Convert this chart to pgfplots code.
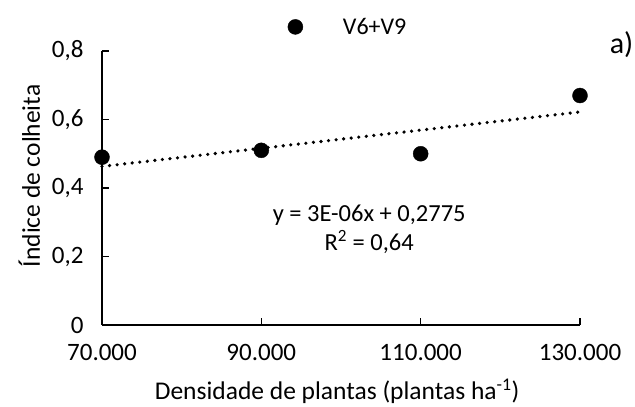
\documentclass[border=0pt]{standalone}
\usepackage{pgfplots}
\pgfplotsset{compat=1.18}
\usepackage{fontspec}
\setmainfont{Carlito}

\begin{document}
\begin{tikzpicture}[x=1pt,y=1pt]
\useasboundingbox (-102,-82) rectangle (533,325);
\begin{axis}[
  at={(0,0)}, anchor=origin,
  scale only axis, width=478pt, height=274pt,
  xmin=70000, xmax=130000, ymin=0, ymax=0.8,
  axis lines=left,
  axis line style={line width=1.6pt, -},
  every tick/.style={black, line width=1.6pt},
  tick align=inside, major tick length=7pt,
  xtick={70000,90000,110000,130000},
  ytick={0,0.2,0.4,0.6,0.8},
  scaled ticks=false,
  /pgf/number format/assume math mode=true,
  xticklabel style={/pgf/number format/.cd, fixed, 1000 sep={.}},
  yticklabel style={/pgf/number format/.cd, fixed, precision=1, use comma},
  tick label style={font=\fontsize{25}{29}\selectfont},
  xticklabel shift=16pt, yticklabel shift=15pt,
  label style={font=\fontsize{25.5}{29}\selectfont},
  xlabel={Densidade de plantas (plantas ha\textsuperscript{-1})},
  xlabel style={at={(axis description cs:0.492,0)}, anchor=center, yshift=-66pt},
  ylabel={Índice de colheita},
  ylabel style={at={(axis description cs:-0.152,0.544)}, anchor=center},
  clip=false,
  legend style={draw=none, fill=none, at={(axis description cs:0.38,1.088)}, anchor=west,
    font=\fontsize{24}{28}\selectfont, legend cell align=left},
  legend image code/.code={\draw[#1] plot coordinates {(0.3cm,0cm)}; \path[draw=none] (0,0) -- (1.9cm,0);},
]
\addplot[only marks, mark=*, mark size=7.5pt, black] coordinates {
  (70000,0.49) (90000,0.51) (110000,0.50) (130000,0.67)
};
\addlegendentry{V6+V9}
% linear trend: y = 2.65e-6 x + 0.2775
\addplot[black, line width=3.6pt, line cap=round, dash pattern=on 0pt off 7.6pt, forget plot]
  coordinates {(70000,0.463) (130000,0.622)};
\node[font=\fontsize{24.5}{29}\selectfont, align=center] at (axis description cs:0.559,0.35)
  {y = 3E-06x + 0,2775\\R\textsuperscript{2} = 0,64};
\node[font=\fontsize{30}{32}\selectfont, anchor=west] at (axis description cs:1.055,1.022) {a)};
\end{axis}
\end{tikzpicture}
\end{document}
